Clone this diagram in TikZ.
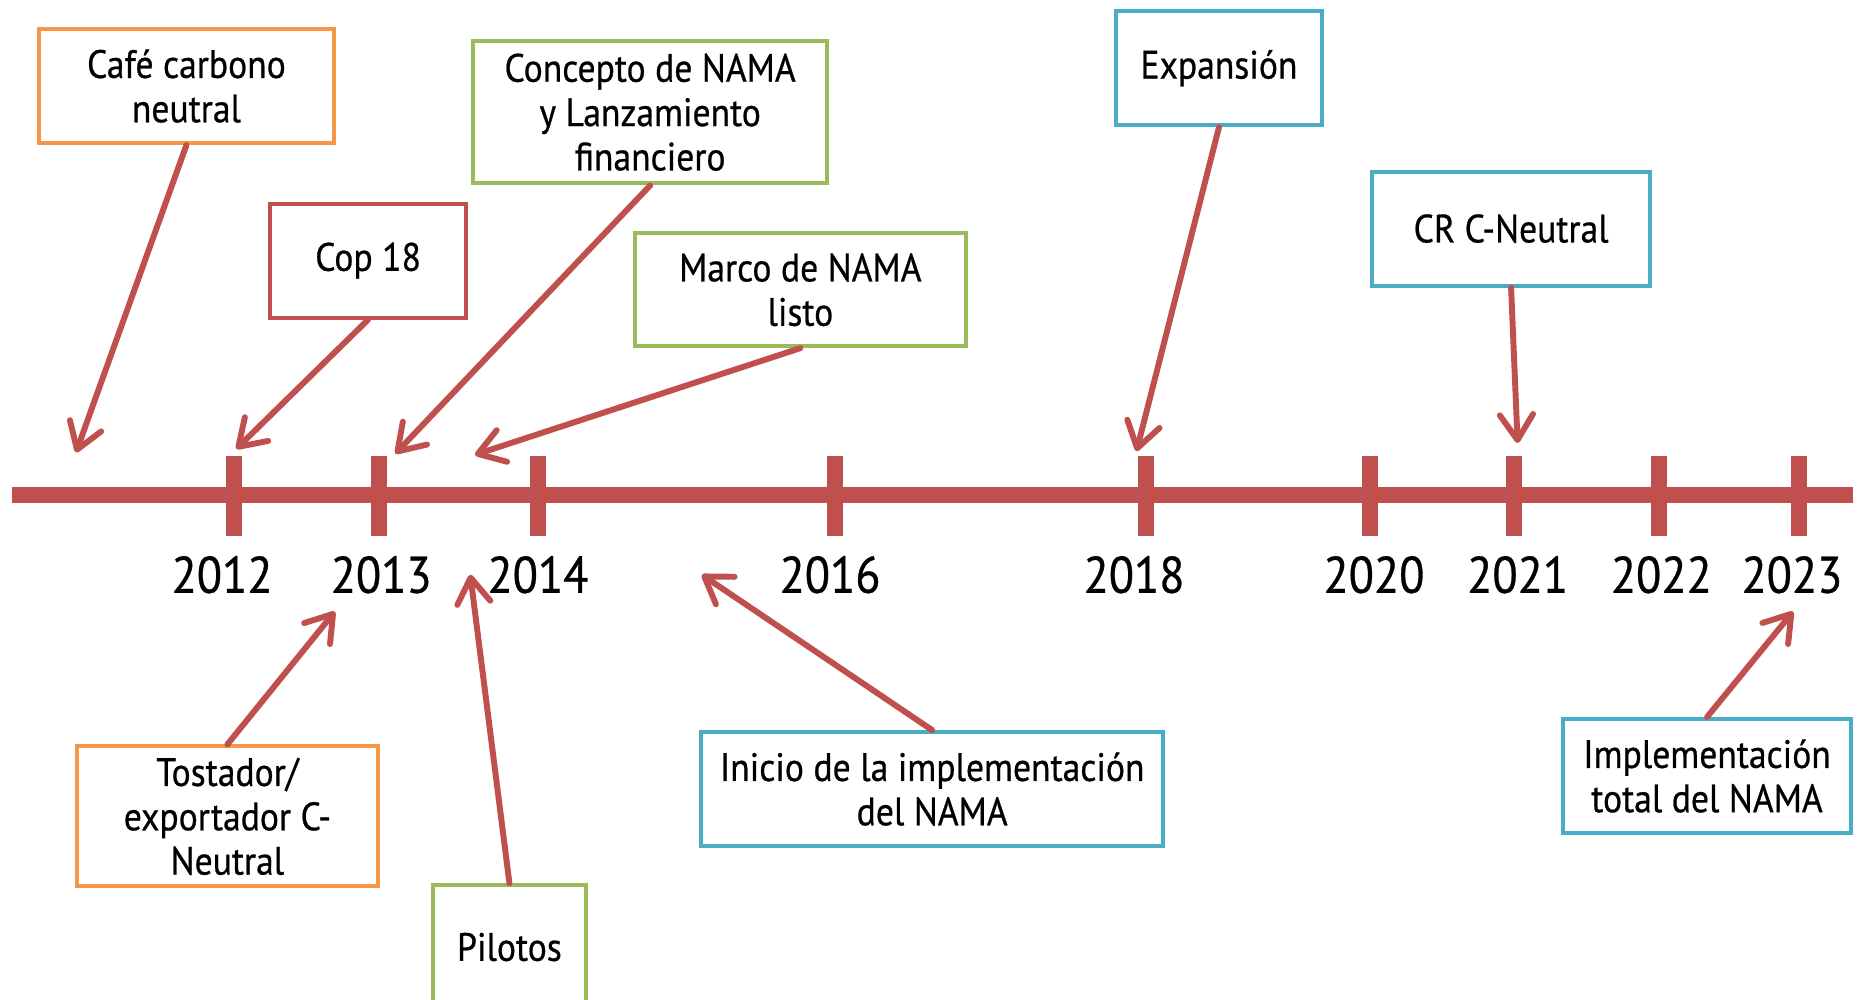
\documentclass[tikz,border=0pt]{standalone}
\usepackage{fontspec}
\setmainfont{PT Sans}[FakeStretch=0.9,FakeBold=0.6]
\usetikzlibrary{arrows.meta}

\definecolor{rojoLinea}{RGB}{192,80,77}
\definecolor{naranjaCaja}{RGB}{247,150,70}
\definecolor{verdeCaja}{RGB}{155,187,89}
\definecolor{azulCaja}{RGB}{75,172,198}

\tikzset{every picture/.style={line width=0.75pt}}
\tikzset{
  hito/.style={draw=#1, line width=2.5pt, fill=white, align=center, inner sep=0pt,
    font=\fontsize{25}{28}\selectfont},
  tam/.style 2 args={minimum width=#1*0.75pt, minimum height=#2*0.75pt},
  flecha/.style={draw=rojoLinea, line width=3.75pt, line cap=round,
    -{Straight Barb[length=16pt,width=21pt,round]}},
  anio/.style={font=\fontsize{32.5}{36}\selectfont, inner sep=0pt},
}

\begin{document}
\begin{tikzpicture}[x=0.75pt,y=0.75pt,yscale=-1,xscale=1]
\useasboundingbox (0,0) rectangle (1568,842);

%Straight Lines
\draw [rojoLinea, line width=10pt] (10,416.5) -- (1560,416.5) ;

% ticks and years
\foreach \x/\lx/\anio in {197/187/2012, 319/321/2013, 453/453/2014, 703/699/2016, 965/955/2018,
  1154/1157/2020, 1275/1278/2021, 1397/1399/2022, 1515/1509/2023}{
  \draw [rojoLinea, line width=10pt] (\x,384) -- (\x,451) ;
  \node [anio] (a\anio) at (\lx,484) {\anio};
}

% Text Node
\node [hito=naranjaCaja, tam={249}{96}] (cafe) at (157,72.5) {Café carbono\\neutral};
% Text Node
\node [hito=rojoLinea, tam={165}{96}] (cop) at (310,219.5) {Cop 18};
% Text Node
\node [hito=verdeCaja, tam={298}{120}] (concepto) at (547.5,94.5) {Concepto de NAMA\\y Lanzamiento\\financiero};
% Text Node
\node [hito=verdeCaja, tam={279}{95}] (marco) at (674,244) {Marco de NAMA\\listo};
% Text Node
\node [hito=azulCaja, tam={174}{96}] (expansion) at (1026.5,57.5) {Expansión};
% Text Node
\node [hito=azulCaja, tam={234}{96}] (crneutral) at (1272.5,192.5) {CR C-Neutral};
% Text Node
\node [hito=naranjaCaja, tam={254}{118}] (tostador) at (191.5,687.5) {Tostador/\\exportador C-\\Neutral};
% Text Node
\node [hito=verdeCaja, tam={129}{104}] (pilotos) at (429,797.5) {Pilotos};
% Text Node
\node [hito=azulCaja, tam={389}{96}] (inicio) at (785,664.5) {Inicio de la implementación\\del NAMA};
% Text Node
\node [hito=azulCaja, tam={242}{96}] (total) at (1437.5,653.5) {Implementación\\total del NAMA};

% arrow ends
\coordinate (pCafe) at (64,381);
\coordinate (pCop) at (199,378);
\coordinate (pConcepto) at (333,382);
\coordinate (pMarco) at (400,383);
\coordinate (pExpansion) at (957,380);
\coordinate (pCR) at (1278,373);
\coordinate (pTostador) at (282,515);
\coordinate (pPilotos) at (396,484);
\coordinate (pInicio) at (591,484);
\coordinate (pTotal) at (1510,515);

%Arrows
\draw [flecha] (cafe.south) -- (pCafe) ;
\draw [flecha] (cop.south) -- (pCop) ;
\draw [flecha] (concepto.south) -- (pConcepto) ;
\draw [flecha] (marco.south) -- (pMarco) ;
\draw [flecha] (expansion.south) -- (pExpansion) ;
\draw [flecha] (crneutral.south) -- (pCR) ;
\draw [flecha] (tostador.north) -- (pTostador) ;
\draw [flecha] (pilotos.north) -- (pPilotos) ;
\draw [flecha] (inicio.north) -- (pInicio) ;
\draw [flecha] (total.north) -- (pTotal) ;

\end{tikzpicture}
\end{document}
